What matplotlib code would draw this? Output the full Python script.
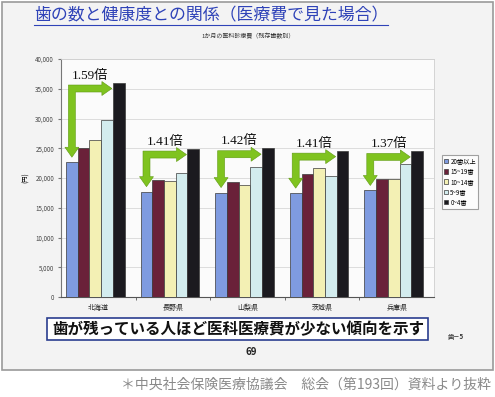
import numpy as np
import matplotlib
matplotlib.use("Agg")
from matplotlib import pyplot as plt
from matplotlib.patches import Polygon, Rectangle
from matplotlib.transforms import IdentityTransform

plt.rcParams['font.family'] = ['Noto Sans CJK JP', 'DejaVu Sans']

prefs = ['北海道', '長野県', '山梨県', '茨城県', '兵庫県']
groups = ['20歯以上', '15~19歯', '10~14歯', '5~9歯', '0~4歯']
teeth20 = [22650, 17700, 17550, 17450, 17900]
teeth15 = [25000, 19600, 19400, 20700, 19750]
teeth10 = [26350, 19550, 18900, 21750, 19750]
teeth5 = [29800, 20900, 21800, 20400, 22300]
teeth0 = [36050, 24950, 25000, 24600, 24550]
ratios = ['1.59倍', '1.41倍', '1.42倍', '1.41倍', '1.37倍']
colors = ['#7f9be0', '#6a2139', '#f3f0b4', '#d3ecee', '#1b1a1f']

W, H = 495, 397
fig = plt.figure(figsize=(W / 100, H / 100), dpi=100)
fig.patch.set_facecolor('white')

# slide frame
fig.patches.append(Rectangle((2 / W, 1 - 370 / H), 491 / W, 368 / H, transform=fig.transFigure,
                             facecolor='#f3f3f3', edgecolor='#9a9a9a', lw=1.2, zorder=-1))

ax = fig.add_axes([61 / W, 1 - 297 / H, 373 / W, 238 / H])
ax.set_zorder(1)
ax.set_facecolor('#fbfbfb')

series = [teeth20, teeth15, teeth10, teeth5, teeth0]
x = np.arange(len(prefs))
bw = 0.157
for i, s in enumerate(series):
    ax.bar(x - 0.04 + (i - 2) * bw, s, bw, color=colors[i], edgecolor='#3a3a3a', lw=0.5,
           label=groups[i], zorder=3)

ax.set_xlim(-0.5, 4.5)
ax.set_ylim(0, 40000)
ax.set_yticks(np.arange(0, 40001, 5000))
ax.set_yticklabels(['{:,}'.format(v) for v in range(0, 40001, 5000)], fontsize=4.5, color='#444')
ax.set_xticks(x)
ax.set_xticklabels(prefs, fontsize=5, color='#222')
ax.set_xticks(np.arange(0.5, 4.5, 1), minor=True)
ax.tick_params(axis='x', which='major', length=0, pad=5)
ax.tick_params(axis='x', which='minor', length=2, color='#555')
ax.tick_params(axis='y', length=2, color='#777', pad=3)
ax.grid(axis='y', color='#d8d8d8', lw=0.6, zorder=0)
for sp in ['top', 'right']:
    ax.spines[sp].set_color('#cfcfcf')
    ax.spines[sp].set_linewidth(0.6)
ax.spines['left'].set_color('#777')
ax.spines['bottom'].set_color('#555')
ax.set_ylabel('(円)', fontsize=4.5, labelpad=4)

leg = ax.legend(loc='upper left', bbox_to_anchor=(1.012, 0.61), fontsize=4.5, frameon=True,
                fancybox=False, edgecolor='#8a8a8a', handlelength=0.7, handleheight=0.7,
                handletextpad=0.3, borderpad=0.4, labelspacing=0.35)
leg.get_frame().set_linewidth(0.8)

# title and texts
title = fig.text(34 / W, 1 - 15 / H, '歯の数と健康度との関係（医療費で見た場合）', fontsize=12.2,
                 color='#2f43b8', ha='left', va='center')
fig.text(248 / W, 1 - 36 / H, '1か月の医科診療費（残存歯数別）', fontsize=4.3,
         color='#333', ha='center', va='center')

fig.patches.append(Rectangle((47 / W, 1 - 340 / H), 381 / W, 22 / H, transform=fig.transFigure,
                             facecolor='white', edgecolor='#2a3d8f', lw=1.2, zorder=2))
fig.text(238 / W, 1 - 329 / H, '歯が残っている人ほど医科医療費が少ない傾向を示す', fontsize=11.2,
         fontweight='bold', color='#111', ha='center', va='center', zorder=3)
fig.text(251 / W, 1 - 352 / H, '69', fontsize=7, fontweight='bold', color='#222',
         ha='center', va='center')
fig.text(456 / W, 1 - 336 / H, '歯－5', fontsize=4.5, fontweight='bold', color='#333',
         ha='center', va='center')

fig.text(491 / W, 1 - 385 / H, '＊中央社会保険医療協議会　総会（第193回）資料より抜粋', fontsize=10,
         color='#8a8a8a', ha='right', va='center')

# green bent arrows (computed in pixel space from the bars)
fig.canvas.draw()
tb = title.get_window_extent()
fig.lines.append(plt.Line2D([34 / W, tb.x1 / W], [1 - 24.5 / H, 1 - 24.5 / H],
                            transform=fig.transFigure, color='#2f43b8', lw=0.8))

green = '#7fc31f'
w, h, L = 3.5, 7, 10
for k in range(len(prefs)):
    xv = x[k] - 0.04 - 2 * bw
    xr = x[k] - 0.04 + 1.5 * bw
    pv = ax.transData.transform((xv, teeth20[k]))
    pr = ax.transData.transform((xr, teeth0[k]))
    xvp, yt = pv[0], pv[1] + 5
    xrp, yc = pr[0] - 1, pr[1] - 6
    pts = [(xvp - w, yc + w), (xrp - L, yc + w), (xrp - L, yc + h), (xrp, yc),
           (xrp - L, yc - h), (xrp - L, yc - w), (xvp + w, yc - w), (xvp + w, yt + L),
           (xvp + h, yt + L), (xvp, yt), (xvp - h, yt + L), (xvp - w, yt + L)]
    fig.patches.append(Polygon(pts, closed=True, transform=IdentityTransform(),
                               facecolor=green, edgecolor='#5f9a12', lw=0.4, zorder=5))
    fig.text(xvp / W, (yc + 13) / H, ratios[k], fontsize=9.5, ha='left', va='center',
             family=['Liberation Serif', 'Noto Sans CJK JP'], color='#111', zorder=6)

fig.savefig('out.png', dpi=100, facecolor=fig.get_facecolor())
